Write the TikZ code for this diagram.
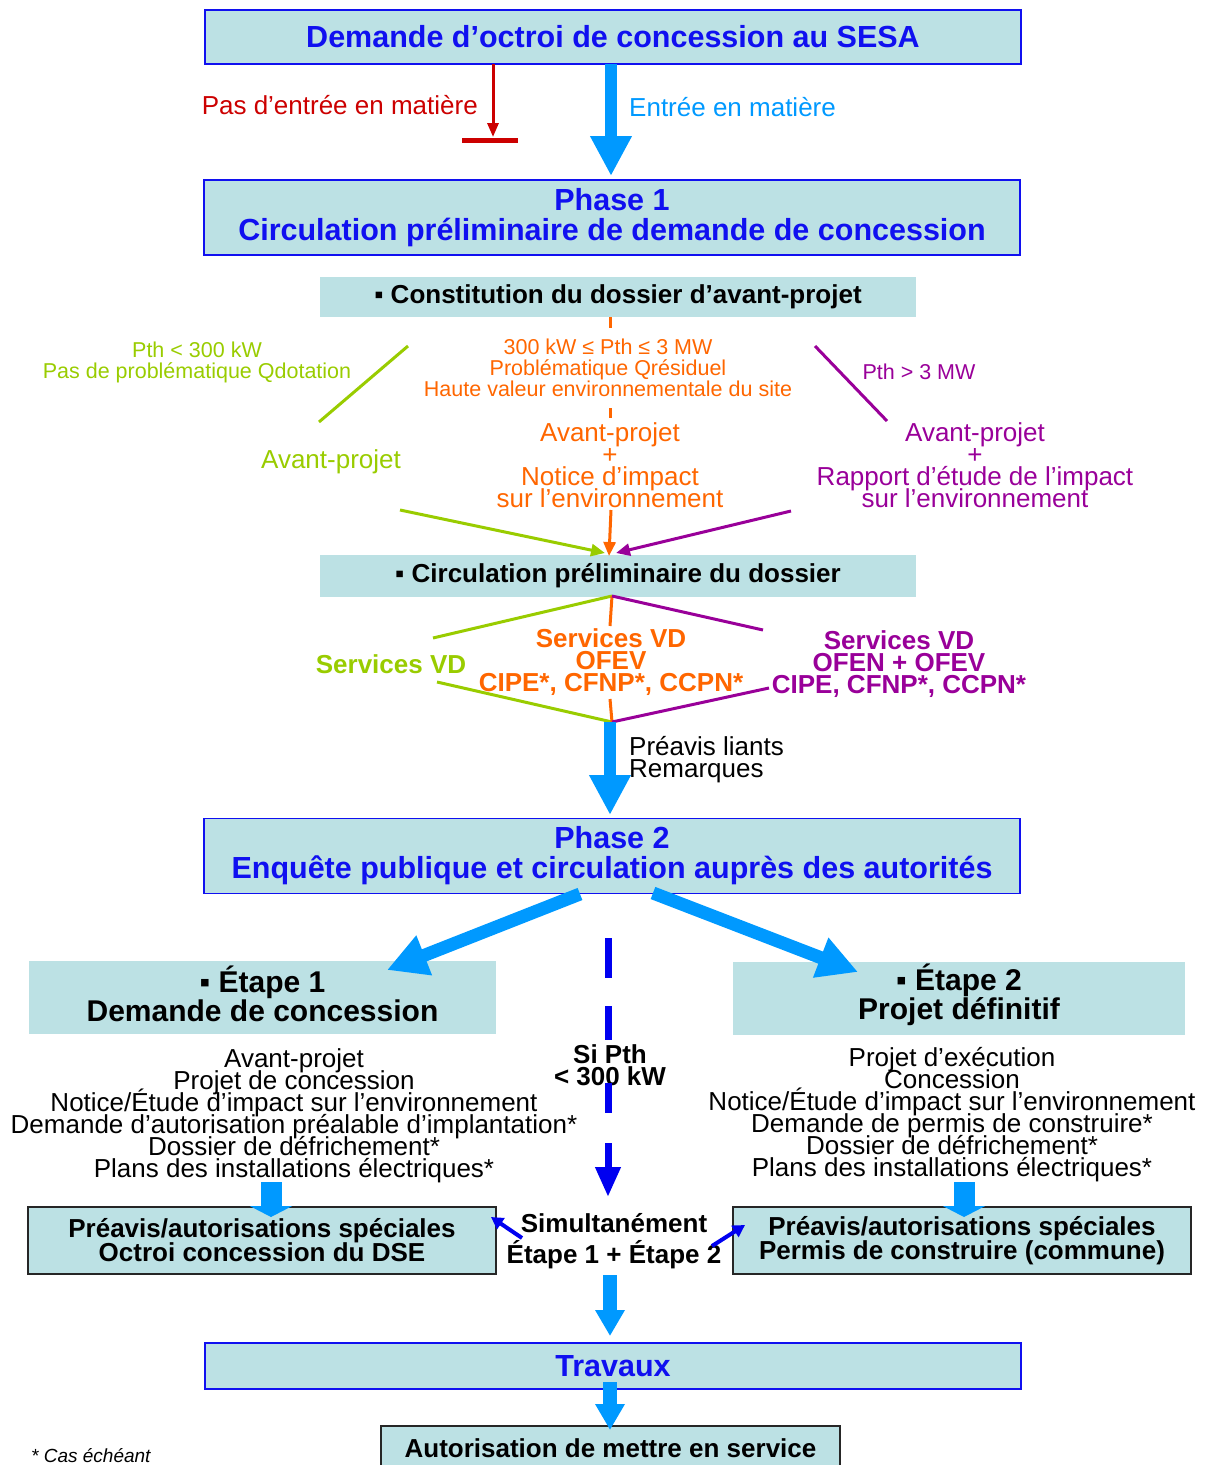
\documentclass[tikz,border=0pt]{standalone}
\usepackage{fontspec}
\setmainfont{Liberation Sans}
\usetikzlibrary{arrows.meta}
\definecolor{boxc}{HTML}{BCE1E4}
\definecolor{tblue}{HTML}{1010F0}
\definecolor{abl}{HTML}{0099FF}
\definecolor{dred}{HTML}{CC0000}
\definecolor{grn}{HTML}{99CC00}
\definecolor{orng}{HTML}{FF6600}
\definecolor{purp}{HTML}{990099}
\definecolor{dblue}{HTML}{0000F0}
\newcommand\noskip{\lineskiplimit=-100pt\lineskip=0pt\relax}
\newcommand\fsT{\fontsize{30.5}{30}\selectfont\noskip}
\newcommand\fsM{\fontsize{26}{22}\selectfont\noskip}
\newcommand\fsS{\fontsize{21.5}{21}\selectfont\noskip}
\begin{document}
\begin{tikzpicture}[x=1pt,y=-1pt,
  every node/.style={inner sep=0pt, align=center},
  bluebox/.style={draw=tblue, line width=1.5pt, fill=boxc, minimum width=816pt, text=tblue, font=\fsT\bfseries},
  flatbox/.style={fill=boxc, font=\fsM\bfseries},
  blackbox/.style={draw=black!85, line width=2.2pt, fill=boxc, font=\fontsize{26}{24}\selectfont\noskip\bfseries},
  etfont/.style={font=\fontsize{30}{29}\selectfont\noskip\bfseries},
  bigarrow/.style={draw=abl, line width=12pt, -{Triangle[width=39pt,length=40pt]}},
  diagarrow/.style={draw=abl, line width=13pt, -{Triangle[width=40pt,length=40pt]}},
  midarrow/.style={draw=abl, line width=14pt, -{Triangle[width=28pt,length=26pt]}},
  stubarrow/.style={draw=abl, line width=21pt, -{Triangle[width=42pt,length=11pt]}},
  darkarrow/.style={draw=dblue, line width=4pt, -{Triangle[width=13pt,length=12pt]}},
  thin/.style={line width=3pt},
  thinarrow/.style={line width=3pt, -{Triangle[width=12pt,length=14pt]}},
  dashseg/.style={draw=dblue, line width=7pt}
]
\useasboundingbox (0,0) rectangle (1206,1465);

% ---------- top ----------
\node[bluebox, minimum height=54pt] (top) at (613,37) {Demande d’octroi de concession au SESA};
\node[bluebox, minimum height=75pt] (ph1) at (612,217.5) {Phase 1\\Circulation préliminaire de demande de concession};

\coordinate (r1) at (493,64);
\coordinate (r2) at (493,137);
\coordinate (rb1) at (462,140);
\coordinate (rb2) at (518,140);
\draw[dred, line width=3pt, -{Triangle[width=11pt,length=14pt]}] (r1) -- (r2);
\draw[dred, line width=5pt] (rb1) -- (rb2);
\node[anchor=east, text=dred, font=\fsM] (pas) at (478,105) {Pas d’entrée en matière};

\coordinate (e1) at (611,64);
\coordinate (e2) at (611,176);
\draw[bigarrow] (e1) -- (e2);
\node[anchor=west, text=abl, font=\fsM] (entree) at (629,107) {Entrée en matière};

% ---------- phase 1 content ----------
\node[flatbox, minimum width=596pt, minimum height=40pt] (const) at (618,297) {▪ Constitution du dossier d’avant-projet};

\node[text=grn, font=\fsS] (gcond) at (197,362) {Pth < 300 kW\\Pas de problématique Qdotation};
\node[text=orng, font=\fsS] (ocond) at (608,368) {300 kW ≤ Pth ≤ 3 MW\\Problématique Qrésiduel\\Haute valeur environnementale du site};
\node[text=purp, font=\fsS] (pcond) at (919,372) {Pth > 3 MW};

\node[text=grn, font=\fsM] (gav) at (331,462) {Avant-projet};
\node[text=orng, font=\fsM] (oav) at (610,465) {Avant-projet\\+\\Notice d’impact\\sur l’environnement};
\node[text=purp, font=\fsM] (pav) at (975,465) {Avant-projet\\+\\Rapport d’étude de l’impact\\sur l’environnement};

\coordinate (o1) at (610,317);
\coordinate (o2) at (610,328);
\coordinate (o3) at (610,408);
\coordinate (o4) at (610,418);
\coordinate (o5) at (611,510);
\coordinate (o6) at (609,556);
\coordinate (g1) at (408,346);
\coordinate (g2) at (319,422);
\coordinate (g3) at (400,510);
\coordinate (g4) at (605,553);
\coordinate (p1) at (815,346);
\coordinate (p2) at (887,421);
\coordinate (p3) at (791,511);
\coordinate (p4) at (616,553);

\node[flatbox, minimum width=596pt, minimum height=42pt] (circ) at (618,576) {▪ Circulation préliminaire du dossier};

\draw[orng, thin] (o1) -- (o2);
\draw[orng, thin] (o3) -- (o4);
\draw[grn, thin] (g1) -- (g2);
\draw[purp, thin] (p1) -- (p2);
\draw[grn, thinarrow] (g3) -- (g4);
\draw[purp, thinarrow] (p3) -- (p4);
\draw[orng, thinarrow] (o5) -- (o6);

% ---------- circulation ----------
\coordinate (c0) at (612,596);
\coordinate (c1) at (612,722);
\coordinate (cg1) at (433,638);
\coordinate (cg2) at (437,682);
\coordinate (co1) at (610,626);
\coordinate (co2) at (610,699);
\coordinate (cp1) at (763,630);
\coordinate (cp2) at (769,688);
\draw[grn, thin] (c0) -- (cg1);
\draw[grn, thin] (cg2) -- (c1);
\draw[orng, thin] (c0) -- (co1);
\draw[orng, thin] (co2) -- (c1);
\draw[purp, thin] (c0) -- (cp1);
\draw[purp, thin] (cp2) -- (c1);

\node[text=grn, font=\fsM\bfseries] (gserv) at (391,664) {Services VD};
\node[text=orng, font=\fsM\bfseries] (oserv) at (611,662) {Services VD\\OFEV\\CIPE*, CFNP*, CCPN*};
\node[text=purp, font=\fsM\bfseries] (pserv) at (899,664) {Services VD\\OFEN + OFEV\\CIPE, CFNP*, CCPN*};

\coordinate (a1) at (610,722);
\coordinate (a2) at (610,815);
\draw[bigarrow] (a1) -- (a2);
\node[anchor=west, align=left, font=\fsM] (prl) at (629,760) {Préavis liants\\Remarques};

% ---------- phase 2 ----------
\node[bluebox, minimum height=75pt] (ph2) at (612,856) {Phase 2\\Enquête publique et circulation auprès des autorités};

\node[flatbox, minimum width=467pt, minimum height=73pt] (et1) at (262.5,997.5) {};
\node[etfont] (et1t) at (262.5,993.5) {▪ Étape 1\\Demande de concession};
\node[flatbox, minimum width=452pt, minimum height=73pt] (et2) at (959,998.5) {};
\node[etfont] (et2t) at (959,994.5) {▪ Étape 2\\Projet définitif};

\coordinate (dl1) at (580,894);
\coordinate (dl2) at (387,970);
\coordinate (dr1) at (653,893);
\coordinate (dr2) at (858,972);
\draw[diagarrow] (dl1) -- (dl2);
\draw[diagarrow] (dr1) -- (dr2);

\node[font=\fsM] (l1) at (294,1116) {Avant-projet\\Projet de concession\\Notice/Étude d’impact sur l’environnement\\Demande d’autorisation préalable d’implantation*\\Dossier de défrichement*\\Plans des installations électriques*};
\node[font=\fsM] (l2) at (952,1115) {Projet d’exécution\\Concession\\Notice/Étude d’impact sur l’environnement\\Demande de permis de construire*\\Dossier de défrichement*\\Plans des installations électriques*};

% dashed blue line
\node[font=\fsM\bfseries] (sipth) at (610,1065) {Si Pth\\< 300 kW};
\coordinate (s1) at (608,938);
\coordinate (s2) at (608,978);
\coordinate (s3) at (608,1006);
\coordinate (s4) at (608,1040);
\coordinate (s5) at (608,1083);
\coordinate (s6) at (608,1113);
\coordinate (s7) at (608,1143);
\coordinate (s8) at (608,1197);
\draw[dashseg] (s1) -- (s2);
\draw[dashseg] (s3) -- (s4);
\draw[dashseg] (s5) -- (s6);
\draw[dashseg, -{Triangle[width=24pt,length=30pt]}] (s7) -- (s8);

% ---------- préavis ----------
\node[blackbox, minimum width=468pt, minimum height=67pt] (pv1) at (262,1240.5) {Préavis/autorisations spéciales\\Octroi concession du DSE};
\node[blackbox, minimum width=458pt, minimum height=67pt] (pv2) at (962,1240.5) {Préavis/autorisations spéciales\\Permis de construire (commune)};

\coordinate (sl1) at (271,1182);
\coordinate (sl2) at (271,1217);
\coordinate (sr1) at (964,1182);
\coordinate (sr2) at (964,1217);
\draw[stubarrow] (sl1) -- (sl2);
\draw[stubarrow] (sr1) -- (sr2);

\node[font=\fontsize{26}{31}\selectfont\noskip\bfseries] (simul) at (614,1241) {Simultanément\\Étape 1 + Étape 2};
\coordinate (bl1) at (522,1238);
\coordinate (bl2) at (491,1217);
\coordinate (br1) at (712,1246);
\coordinate (br2) at (745,1225);
\draw[darkarrow] (bl1) -- (bl2);
\draw[darkarrow] (br1) -- (br2);

% ---------- travaux ----------
\node[bluebox, minimum height=46pt] (trav) at (613,1366) {Travaux};
\node[blackbox, minimum width=459pt, minimum height=44pt] (aut) at (610.5,1448) {Autorisation de mettre en service};

\coordinate (t1) at (610,1275);
\coordinate (t2) at (610,1336);
\coordinate (t3) at (610,1382);
\coordinate (t4) at (610,1430);
\draw[midarrow] (t1) -- (t2);
\draw[midarrow] (t3) -- (t4);

\node[anchor=west, font=\fontsize{19}{19}\selectfont\itshape] (cas) at (31,1456) {* Cas échéant};
\end{tikzpicture}
\end{document}
